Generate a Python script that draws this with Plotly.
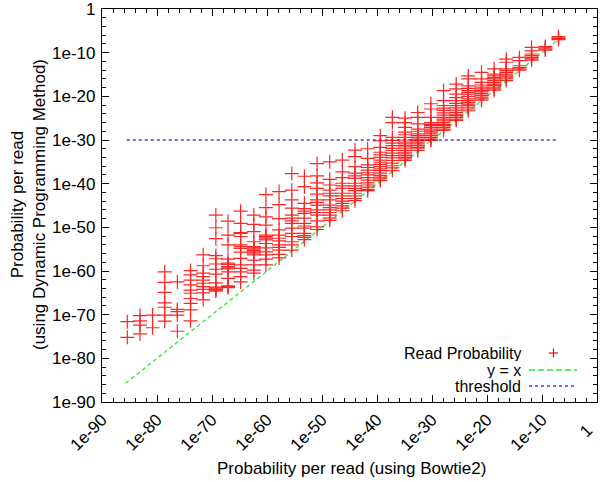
import plotly.graph_objects as go

# ---- data (log10 of probabilities) ----
bowtie_exp = [-85.4, -83.1, -80.8, -78.6, -76.3, -73.9, -71.6, -69.3, -67.1, -64.8,
              -62.4, -60.2, -57.8, -55.5, -53.2, -50.9, -48.6, -46.3, -44.0, -41.7,
              -39.4, -37.2, -34.9, -32.6, -30.2, -27.9, -25.6, -23.4, -21.0, -18.7,
              -16.5, -14.1, -11.9, -9.4, -7.0]

dp_exp = [
    [-71.6, -75.2],
    [-70.2, -71.4, -72.4, -74.4],
    [-70.1, -73.0],
    [-60.2, -62.6, -64.9, -67.3, -68.3, -70.1, -71.5],
    [-62.5, -68.8, -69.3, -70.1, -73.8],
    [-59.9, -60.9, -62.1, -63.2, -64.4, -65.1, -66.3, -67.4, -68.9, -71.4],
    [-56.3, -58.8, -60.5, -61.3, -62.1, -62.8, -63.6, -64.2, -65.0, -66.6],
    [-47.2, -50.1, -52.6, -56.5, -57.2, -58.4, -59.6, -60.7, -62.7, -63.7, -63.9, -64.2, -64.4, -64.6],
    [-48.6, -51.8, -54.0, -57.3, -58.2, -58.5, -59.0, -59.3, -59.5, -60.2, -61.7, -63.4, -63.6, -63.8],
    [-46.3, -49.1, -51.2, -51.4, -52.1, -54.0, -54.4, -54.8, -55.7, -57.1, -58.6, -59.4, -60.2, -61.3, -62.5],
    [-47.2, -49.3, -51.0, -53.3, -54.4, -54.7, -55.0, -55.3, -55.6, -55.9, -56.3, -57.5, -58.6, -59.8, -60.5],
    [-42.5, -45.5, -47.6, -49.5, -51.8, -52.1, -52.4, -52.7, -52.9, -53.7, -54.7, -55.6, -56.3, -57.3, -58.6],
    [-41.8, -44.8, -48.0, -50.6, -51.8, -52.5, -53.1, -54.0, -54.6, -55.2, -56.2, -57.0],
    [-37.7, -41.5, -43.7, -45.6, -47.2, -47.9, -48.5, -49.1, -50.2, -51.4, -52.1, -53.3, -54.0, -55.2],
    [-38.3, -40.7, -44.5, -45.7, -46.3, -46.8, -47.9, -49.1, -49.7, -50.2, -51.4, -51.9, -52.3, -52.8],
    [-35.4, -38.2, -39.8, -41.1, -42.4, -43.7, -44.3, -44.9, -46.0, -46.6, -47.2, -48.5, -49.9, -50.5],
    [-35.0, -39.0, -40.3, -41.5, -42.2, -42.8, -43.7, -44.9, -45.5, -46.0, -46.6, -47.2, -47.9, -48.4],
    [-34.6, -37.3, -38.6, -39.9, -40.5, -41.1, -42.2, -42.8, -43.4, -44.0, -44.5, -45.1, -45.6, -46.2],
    [-32.3, -33.8, -36.1, -37.6, -38.2, -38.8, -39.9, -40.5, -41.1, -41.6, -42.2, -42.8, -43.4, -43.9],
    [-32.0, -34.2, -35.7, -36.3, -36.9, -37.5, -38.0, -38.6, -39.2, -39.8, -40.3, -40.8, -41.3, -41.6],
    [-29.0, -30.2, -31.7, -32.8, -33.4, -34.0, -34.6, -35.1, -35.6, -36.1, -36.6, -37.0, -37.6, -38.1, -38.5, -38.9, -39.3],
    [-24.8, -26.0, -29.4, -30.1, -30.7, -31.3, -31.9, -32.4, -33.0, -33.6, -34.1, -34.7, -35.3, -35.9, -36.4, -37.0],
    [-25.0, -26.0, -27.1, -28.2, -28.8, -29.4, -30.0, -30.5, -30.9, -31.3, -31.6, -32.0, -32.4, -32.8, -33.2, -33.6, -34.0, -34.3, -34.7],
    [-23.7, -24.8, -26.3, -27.5, -28.0, -28.6, -29.0, -29.4, -29.8, -30.1, -30.5, -30.9, -31.3, -31.7, -32.0, -32.4],
    [-21.7, -22.9, -24.8, -26.0, -26.4, -26.7, -27.1, -27.5, -27.9, -28.2, -28.6, -29.0, -29.4, -29.8, -30.1],
    [-18.7, -21.0, -22.1, -22.7, -23.2, -23.8, -24.3, -24.8, -25.2, -25.6, -26.0, -26.4, -26.7, -27.1, -27.5, -27.8],
    [-17.2, -18.3, -19.5, -20.3, -21.0, -21.6, -22.1, -22.5, -22.9, -23.3, -23.7, -24.1, -24.4, -24.8, -25.2, -25.5],
    [-15.3, -16.0, -17.6, -18.2, -18.7, -19.1, -19.5, -20.0, -20.6, -21.0, -21.4, -21.8, -22.1, -22.5, -22.9, -23.3],
    [-14.5, -16.0, -16.8, -17.4, -17.9, -18.3, -18.7, -19.0, -19.4, -19.8, -20.2, -20.6, -20.9],
    [-13.7, -14.9, -15.3, -15.7, -16.0, -16.4, -16.8, -17.2, -17.5, -17.9, -18.3, -18.6],
    [-11.5, -12.2, -13.7, -14.1, -14.5, -14.9, -15.3, -15.6, -16.0, -16.4],
    [-11.1, -11.8, -13.0, -13.4, -13.7, -14.0],
    [-8.8, -9.6, -10.3, -10.7, -11.1, -11.4, -11.7],
    [-8.6, -8.9, -9.2, -9.4],
    [-6.3, -6.6, -6.8, -7.0],
]

diag_exp = [-85.7, -6.3]          # y = x line extent
threshold_exp = -30               # threshold level
threshold_x_exp = [-85.5, -7.0]   # threshold line extent

tick_exp = [-90, -80, -70, -60, -50, -40, -30, -20, -10, 0]
tick_text = ["1e-90", "1e-80", "1e-70", "1e-60", "1e-50", "1e-40", "1e-30", "1e-20", "1e-10", "1"]

legend_labels = ["Read Probability", "y = x", "threshold"]

# ---- build ----
xs, ys = [], []
for xe, col in zip(bowtie_exp, dp_exp):
    for ye in col:
        xs.append(10 ** xe)
        ys.append(10 ** ye)

RED = "#ff0000"
GREEN = "#2ee82e"
BLUE = "#3c3cff"
FONT = "Liberation Sans, Arial, Helvetica, sans-serif"
FS = 17

fig = go.Figure()
fig.add_trace(go.Scatter(
    x=[10 ** e for e in diag_exp], y=[10 ** e for e in diag_exp], mode="lines",
    line=dict(color=GREEN, width=1.3, dash="4px,3px"), showlegend=False, hoverinfo="skip"))
fig.add_trace(go.Scatter(
    x=[10 ** e for e in threshold_x_exp], y=[10 ** threshold_exp] * 2, mode="lines",
    line=dict(color=BLUE, width=1.3, dash="3px,3px"), showlegend=False, hoverinfo="skip"))
fig.add_trace(go.Scatter(
    x=xs, y=ys, mode="markers",
    marker=dict(symbol="cross-thin", size=10, line=dict(color=RED, width=1.2), color=RED),
    opacity=0.85, showlegend=False))

tickvals = [10 ** e for e in tick_exp]
# the last x label ("1") is placed as an annotation so it stays inside the picture
x_tick_text = tick_text[:-1] + [""]

axis_common = dict(
    type="log", range=[-90, 0], tickmode="array", tickvals=tickvals,
    ticks="inside", ticklen=7, tickwidth=1, tickcolor="black",
    showline=True, linecolor="black", linewidth=1.2, mirror="allticks",
    showgrid=False, zeroline=False, automargin=False, ticklabeloverflow="allow",
    tickfont=dict(family=FONT, size=FS, color="black"),
    minor=dict(tickmode="linear", tick0=0, dtick=2, ticks="inside", ticklen=4,
               tickcolor="black", showgrid=False),
)

fig.update_layout(
    width=600, height=482,
    margin=dict(l=102, r=3, t=9, b=80),
    paper_bgcolor="white", plot_bgcolor="white",
    font=dict(family=FONT, size=FS, color="black"),
    xaxis=dict(axis_common, tickangle=-45, ticktext=x_tick_text),
    yaxis=dict(axis_common, ticktext=tick_text, ticklabelstandoff=2),
    showlegend=False,
)

# pixel -> paper helpers
L, R, T, B = 102, 597, 9, 402
def px(x):
    return (x - L) / (R - L)
def py(y):
    return (B - y) / (B - T)

annotations = [
    dict(text="Probability per read (using Bowtie2)", x=px(351), y=py(468),
         xref="paper", yref="paper", showarrow=False, font=dict(size=FS),
         xanchor="center", yanchor="middle"),
    dict(text="Probability per read<br>(using Dynamic Programming Method)", x=px(28), y=py(205),
         xref="paper", yref="paper", showarrow=False, font=dict(size=FS),
         textangle=-90, xanchor="center", yanchor="middle"),
    dict(text=tick_text[-1], x=px(586), y=py(432), xref="paper", yref="paper",
         showarrow=False, font=dict(size=FS), textangle=-45,
         xanchor="center", yanchor="middle"),
]
legend_y = [353, 370, 386]
for lab, ly in zip(legend_labels, legend_y):
    annotations.append(dict(text=lab, x=px(522), y=py(ly), xref="paper", yref="paper",
                            showarrow=False, font=dict(size=16), height=16, borderpad=0,
                            xanchor="right", yanchor="middle"))
fig.update_layout(annotations=annotations)

shapes = [
    dict(type="line", xref="paper", yref="paper", x0=px(549), x1=px(558), y0=py(353), y1=py(353),
         line=dict(color=RED, width=1.2)),
    dict(type="line", xref="paper", yref="paper", x0=px(553.5), x1=px(553.5), y0=py(348.5), y1=py(357.5),
         line=dict(color=RED, width=1.2)),
    dict(type="line", xref="paper", yref="paper", x0=px(529), x1=px(577), y0=py(370), y1=py(370),
         line=dict(color=GREEN, width=1.3, dash="6px,3px")),
    dict(type="line", xref="paper", yref="paper", x0=px(529), x1=px(577), y0=py(386), y1=py(386),
         line=dict(color=BLUE, width=1.3, dash="3px,3px")),
]
fig.update_layout(shapes=shapes)

fig.write_html("out.html", config={"displayModeBar": False},
               post_script="document.body.style.margin='0px';")
